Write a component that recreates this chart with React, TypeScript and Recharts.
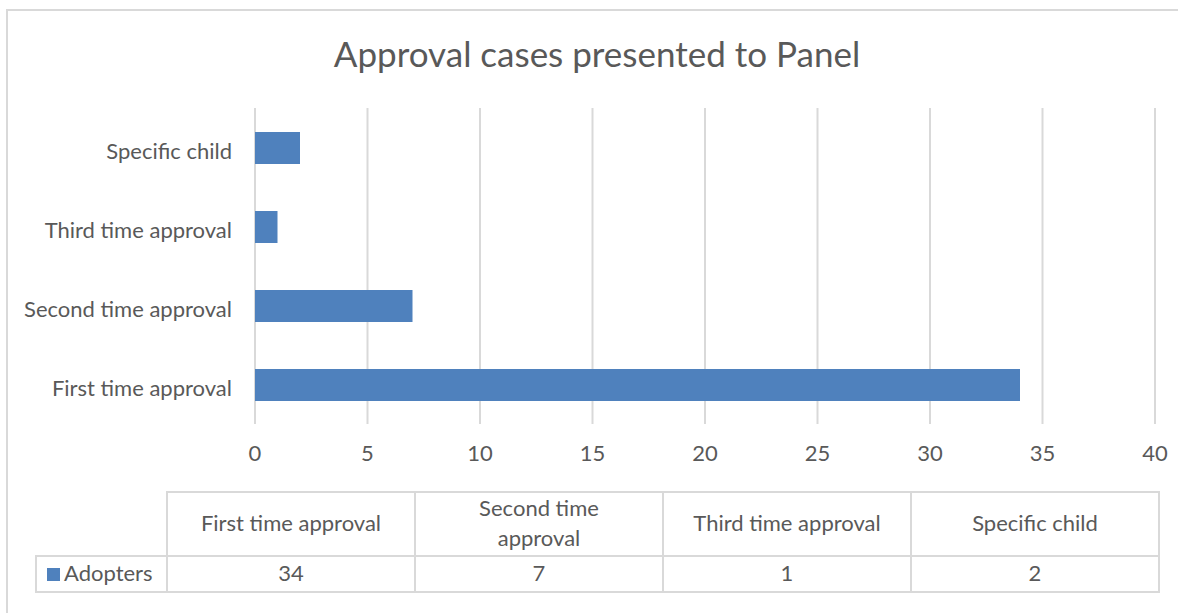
import React from 'react';
import { BarChart, Bar, XAxis, YAxis, CartesianGrid } from 'recharts';

const title = 'Approval cases presented to Panel';
const categories = ['First time approval', 'Second time approval', 'Third time approval', 'Specific child'];
const seriesName = 'Adopters';
const adopters = [34, 7, 1, 2];
const xTicks = [0, 5, 10, 15, 20, 25, 30, 35, 40];

const data = categories.map((c, i) => ({ category: c, value: adopters[i] }));

const FONT = 'Lato, "Open Sans", sans-serif';
const TEXT = '#595959';
const GRID = '#d9d9d9';
const BAR = '#4f81bd';
const FS = 22;

const W = 1178;
const H = 613;

const cellBase: React.CSSProperties = {
  position: 'absolute',
  boxSizing: 'border-box',
  border: `2px solid ${GRID}`,
  display: 'flex',
  alignItems: 'center',
  justifyContent: 'center',
  textAlign: 'center',
  color: TEXT,
  fontFamily: FONT,
  fontSize: FS,
};

const YTick = (props: any) => {
  const { x, y, payload } = props;
  return (
    <text x={x} y={y + 4} dy="0.355em" textAnchor="end" fill={TEXT} fontSize={FS} fontFamily={FONT}>
      {payload.value}
    </text>
  );
};

export default function App() {
  const tableLeft = 167;
  const colW = 248;
  const headTop = 491;
  const headH = 64;
  const rowH = 36;
  return (
    <div style={{ position: 'absolute', left: 0, top: 0, width: W, height: H, background: '#fff', overflow: 'hidden' }}>
      <div
        style={{
          position: 'absolute',
          left: 6,
          top: 9,
          width: W + 20,
          height: H + 20,
          boxSizing: 'border-box',
          border: `2px solid ${GRID}`,
        }}
      />
      <div
        style={{
          position: 'absolute',
          left: 297,
          width: 600,
          top: 33,
          textAlign: 'center',
          fontFamily: FONT,
          fontSize: 35,
          lineHeight: '40px',
          color: TEXT,
          whiteSpace: 'nowrap',
        }}
      >
        {title}
      </div>
      <div style={{ position: 'absolute', left: 0, top: 0 }}>
        <BarChart
          width={W}
          height={H}
          data={data}
          layout="vertical"
          margin={{ top: 108, right: 23, bottom: 159, left: 0 }}
        >
          <CartesianGrid horizontal={false} stroke={GRID} strokeWidth={2} />
          <XAxis
            type="number"
            domain={[0, 40]}
            ticks={xTicks}
            interval={0}
            axisLine={false}
            tickLine={false}
            tickSize={0}
            tickMargin={21}
            height={30}
            tick={{ fill: TEXT, fontSize: FS, fontFamily: FONT }}
          />
          <YAxis
            type="category"
            dataKey="category"
            reversed
            width={255}
            axisLine={false}
            tickLine={false}
            tickSize={0}
            tickMargin={23}
            interval={0}
            tick={<YTick />}
          />
          <Bar dataKey="value" name={seriesName} fill={BAR} barSize={32} isAnimationActive={false} />
        </BarChart>
      </div>
      {categories.map((c, i) => (
        <div
          key={'h' + c}
          style={{
            ...cellBase,
            left: tableLeft + i * colW - 1,
            top: headTop,
            width: colW + 2,
            height: headH + 2,
            padding: '0 22px 3px 22px',
            lineHeight: '30px',
          }}
        >
          {c}
        </div>
      ))}
      <div
        style={{
          ...cellBase,
          left: 35,
          top: headTop + headH,
          width: tableLeft - 35 + 1,
          height: rowH + 2,
          justifyContent: 'flex-start',
          paddingLeft: 10,
          paddingBottom: 3,
        }}
      >
        <span style={{ display: 'inline-block', width: 13, height: 13, background: BAR, marginRight: 4, marginTop: 3 }} />
        {seriesName}
      </div>
      {adopters.map((v, i) => (
        <div
          key={'v' + i}
          style={{
            ...cellBase,
            left: tableLeft + i * colW - 1,
            top: headTop + headH,
            width: colW + 2,
            height: rowH + 2,
            paddingBottom: 3,
          }}
        >
          {v}
        </div>
      ))}
    </div>
  );
}
